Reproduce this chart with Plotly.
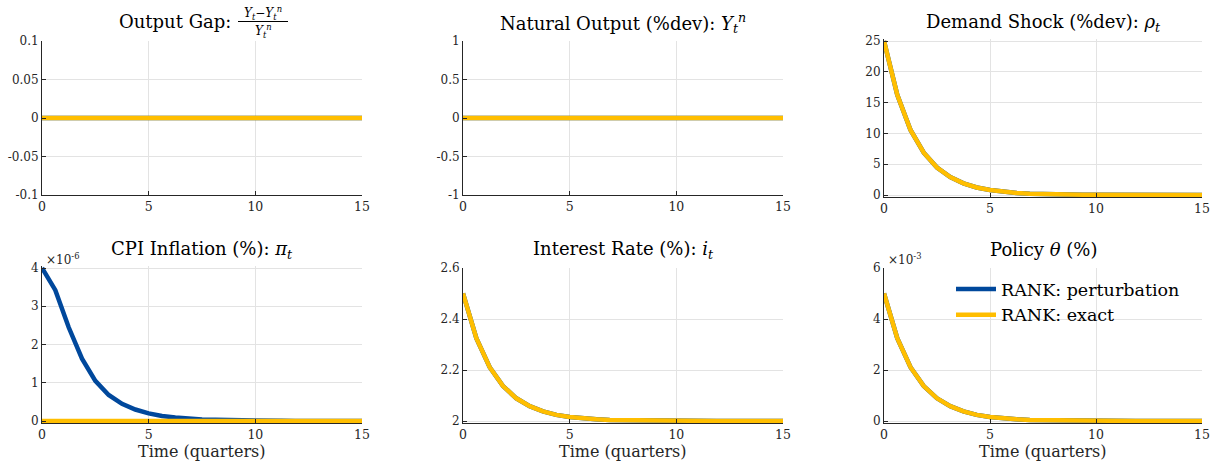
import plotly.graph_objects as go

W, H = 1212, 466

# ---------------- data ----------------
time_q = [0, 0.625, 1.25, 1.875, 2.5, 3.125, 3.75, 4.375, 5, 5.625, 6.25, 6.875,
          7.5, 8.125, 8.75, 9.375, 10, 10.625, 11.25, 11.875, 12.5, 13.125, 13.75, 14.375, 15]

output_gap_pert = [0]*25
output_gap_exact = [0]*25
natural_output_pert = [0]*25
natural_output_exact = [0]*25

demand_shock_pert = [25.0, 16.25, 10.56, 6.87, 4.46, 2.90, 1.89, 1.22, 0.80, 0.52, 0.34, 0.22,
                     0.14, 0.09, 0.06, 0.04, 0.03, 0.02, 0.01, 0.01, 0.01, 0.0, 0.0, 0.0, 0.0]
demand_shock_exact = [25.0, 16.25, 10.56, 6.87, 4.46, 2.90, 1.89, 1.22, 0.80, 0.52, 0.34, 0.22,
                      0.14, 0.09, 0.06, 0.04, 0.03, 0.02, 0.01, 0.01, 0.01, 0.0, 0.0, 0.0, 0.0]

# CPI inflation, in units of 1e-6
cpi_pert = [4.0, 3.42, 2.45, 1.63, 1.05, 0.68, 0.45, 0.30, 0.20, 0.13, 0.09, 0.06,
            0.04, 0.03, 0.02, 0.015, 0.01, 0.007, 0.005, 0.003, 0.002, 0.001, 0.001, 0.0, 0.0]
cpi_exact = [0]*25

interest_pert = [2.5, 2.325, 2.211, 2.137, 2.089, 2.058, 2.038, 2.024, 2.016, 2.010, 2.007, 2.004,
                 2.003, 2.002, 2.001, 2.001, 2.001, 2.0, 2.0, 2.0, 2.0, 2.0, 2.0, 2.0, 2.0]
interest_exact = [2.5, 2.325, 2.211, 2.137, 2.089, 2.058, 2.038, 2.024, 2.016, 2.010, 2.007, 2.004,
                  2.003, 2.002, 2.001, 2.001, 2.001, 2.0, 2.0, 2.0, 2.0, 2.0, 2.0, 2.0, 2.0]

# Policy theta, in units of 1e-3
policy_pert = [5.0, 3.25, 2.11, 1.37, 0.89, 0.58, 0.38, 0.24, 0.16, 0.10, 0.07, 0.04,
               0.03, 0.02, 0.01, 0.01, 0.01, 0.0, 0.0, 0.0, 0.0, 0.0, 0.0, 0.0, 0.0]
policy_exact = [5.0, 3.25, 2.11, 1.37, 0.89, 0.58, 0.38, 0.24, 0.16, 0.10, 0.07, 0.04,
                0.03, 0.02, 0.01, 0.01, 0.01, 0.0, 0.0, 0.0, 0.0, 0.0, 0.0, 0.0, 0.0]

x_ticks = [0, 5, 10, 15]
y_ticks = [
    [-0.1, -0.05, 0, 0.05, 0.1],
    [-1, -0.5, 0, 0.5, 1],
    [0, 5, 10, 15, 20, 25],
    [0, 1, 2, 3, 4],
    [2, 2.2, 2.4, 2.6],
    [0, 2, 4, 6],
]
y_ticklabels = [
    ["-0.1", "-0.05", "0", "0.05", "0.1"],
    ["-1", "-0.5", "0", "0.5", "1"],
    ["0", "5", "10", "15", "20", "25"],
    ["0", "1", "2", "3", "4"],
    ["2", "2.2", "2.4", "2.6"],
    ["0", "2", "4", "6"],
]
y_ranges = [(-0.1, 0.1), (-1, 1), (0, 25), (0, 4), (2, 2.6), (0, 6)]
legend_names = ["RANK: perturbation", "RANK: exact"]

series = [
    (output_gap_pert, output_gap_exact),
    (natural_output_pert, natural_output_exact),
    (demand_shock_pert, demand_shock_exact),
    (cpi_pert, cpi_exact),
    (interest_pert, interest_exact),
    (policy_pert, policy_exact),
]

# ---------------- layout geometry (screen pixels) ----------------
cols_px = [(42, 362), (463, 783), (884, 1202)]
rows_px = [(41, 195), (268, 421)]
ext_px = 2
BLUE = "#00489C"
YELLOW = "#FFBE00"
FONT = "DejaVu Serif"
AX = "#262626"
GRID = "#e3e3e3"


def fx(xp):
    return xp / W


def fy(yp):
    return 1 - yp / H


fig = go.Figure()
layout = dict(width=W, height=H, margin=dict(l=0, r=0, t=0, b=0, autoexpand=False),
              paper_bgcolor="white", plot_bgcolor="white", showlegend=True)

for i in range(6):
    r, c = divmod(i, 3)
    x0, x1 = cols_px[c]
    top, bot = rows_px[r]
    lo, hi = y_ranges[i]
    span = hi - lo
    hpx = bot - top
    ext_lo = ext_px if i in (2, 3, 4, 5) else 0
    ext_hi = ext_px if i in (2, 3) else 0
    rlo = lo - ext_lo * span / hpx
    rhi = hi + ext_hi * span / hpx
    dom_y = [fy(bot + ext_lo), fy(top - ext_hi)]
    sfx = "" if i == 0 else str(i + 1)
    layout["xaxis" + sfx] = dict(
        domain=[fx(x0), fx(x1)], range=[0, 15], anchor="y" + sfx, automargin=False,
        tickvals=x_ticks, ticktext=[str(v) for v in x_ticks],
        showgrid=True, gridcolor=GRID, gridwidth=1, zeroline=False,
        showline=True, linecolor=AX, linewidth=1,
        ticks="inside", ticklen=4, tickcolor=AX,
        tickfont=dict(family=FONT, size=12.5, color=AX), fixedrange=True,
    )
    layout["yaxis" + sfx] = dict(
        domain=dom_y, range=[rlo, rhi], anchor="x" + sfx, automargin=False,
        tickvals=y_ticks[i], ticktext=y_ticklabels[i],
        showgrid=True, gridcolor=GRID, gridwidth=1, zeroline=False,
        showline=True, linecolor=AX, linewidth=1,
        ticks="inside", ticklen=4, tickcolor=AX,
        tickfont=dict(family=FONT, size=12, color=AX), fixedrange=True,
    )
    pert, exact = series[i]
    fig.add_trace(go.Scatter(x=time_q, y=pert, mode="lines", name=legend_names[0],
                             line=dict(color=BLUE, width=4.5), xaxis="x" + sfx, yaxis="y" + sfx,
                             showlegend=(i == 5), legendgroup="p"))
    fig.add_trace(go.Scatter(x=time_q, y=exact, mode="lines", name=legend_names[1],
                             line=dict(color=YELLOW, width=4.5), xaxis="x" + sfx, yaxis="y" + sfx,
                             showlegend=(i == 5), legendgroup="e"))

ann = []
tfont = dict(family=FONT, size=18, color="black")
titles = [
    None,
    "Natural Output (%dev): <i>Y<sub>t</sub><sup>n</sup></i>",
    "Demand Shock (%dev): <i>ρ<sub>t</sub></i>",
    "CPI Inflation (%): <i>π<sub>t</sub></i>",
    "Interest Rate (%): <i>i<sub>t</sub></i>",
    "Policy <i>θ</i> (%)",
]
title_y = [22, 23, 23, 250, 250, 250]
for i in range(1, 6):
    c = i % 3
    cx = (cols_px[c][0] + cols_px[c][1]) / 2
    ann.append(dict(x=fx(cx), y=fy(title_y[i]), xref="paper", yref="paper", text=titles[i],
                    showarrow=False, xanchor="center", yanchor="middle", font=tfont))

# x-axis titles (bottom row)
for c in range(3):
    cx = (cols_px[c][0] + cols_px[c][1]) / 2
    ann.append(dict(x=fx(cx), y=fy(451), xref="paper", yref="paper", text="Time (quarters)",
                    showarrow=False, xanchor="center", yanchor="middle",
                    font=dict(family=FONT, size=16, color=AX)))

# Output gap title with a fraction
ann.append(dict(x=fx(233), y=fy(22), xref="paper", yref="paper", text="Output Gap:",
                showarrow=False, xanchor="right", yanchor="middle", font=tfont))
fr_font = dict(family=FONT, size=12, color="black")
ann.append(dict(x=fx(263), y=fy(13), xref="paper", yref="paper",
                text="<i>Y<sub>t</sub></i>−<i>Y<sub>t</sub><sup>n</sup></i>", showarrow=False,
                xanchor="center", yanchor="middle", font=fr_font))
ann.append(dict(x=fx(263), y=fy(31), xref="paper", yref="paper",
                text="<i>Y<sub>t</sub><sup>n</sup></i>", showarrow=False,
                xanchor="center", yanchor="middle", font=fr_font))
shapes = [dict(type="line", xref="paper", yref="paper",
               x0=fx(238), x1=fx(288), y0=fy(21.5), y1=fy(21.5),
               line=dict(color="black", width=1))]

# exponent labels
for (xp, txt) in [(44, "×10<sup>-6</sup>"), (886, "×10<sup>-3</sup>")]:
    ann.append(dict(x=fx(xp), y=fy(259), xref="paper", yref="paper", text=txt, showarrow=False,
                    xanchor="left", yanchor="middle", font=dict(family=FONT, size=12, color=AX)))

layout["annotations"] = ann
layout["shapes"] = shapes
layout["legend"] = dict(x=fx(951), y=fy(271), xanchor="left", yanchor="top",
                        bgcolor="rgba(255,255,255,0)", borderwidth=0,
                        font=dict(family=FONT, size=17.5, color="black"),
                        itemwidth=40, tracegroupgap=0)
fig.update_layout(**layout)
fig.write_html("out.html", config={"displayModeBar": False, "staticPlot": True},
               post_script="document.body.style.margin='0';document.body.style.overflow='hidden';")
